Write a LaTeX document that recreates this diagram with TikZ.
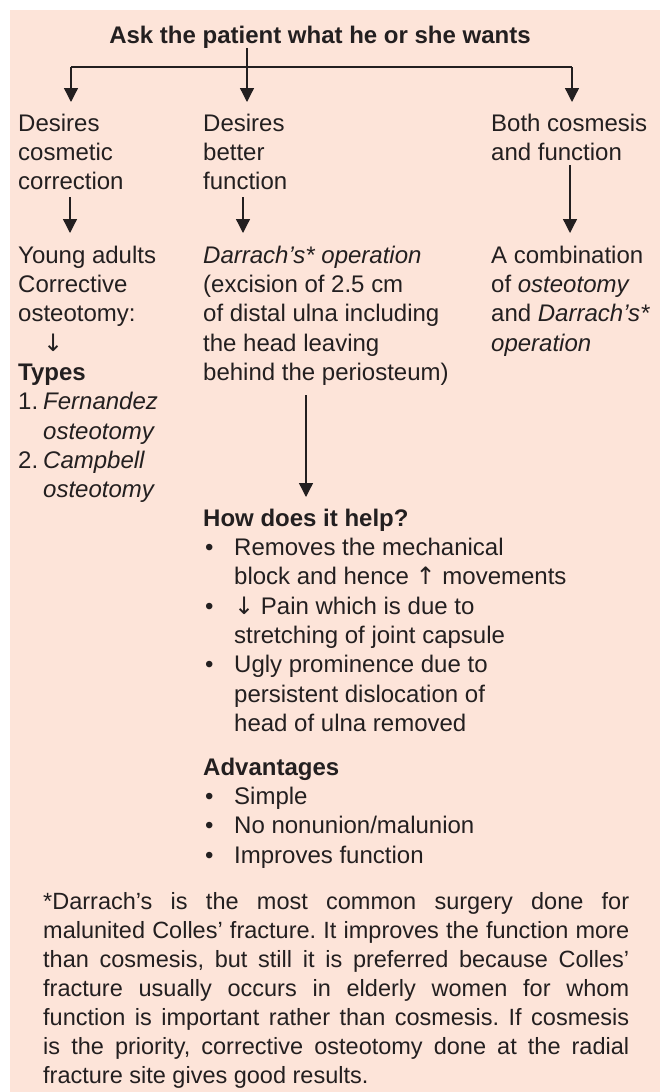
\documentclass[tikz,border=0pt]{standalone}
\usepackage{fontspec}
\setmainfont{Liberation Sans}
\newfontfamily\arrfont{DejaVu Sans}
\usetikzlibrary{arrows.meta}
\definecolor{bg}{RGB}{253,228,217}
\definecolor{ink}{RGB}{35,31,32}
\newcommand\fsz{\fontsize{24}{29.3}\selectfont\frenchspacing}
\newcommand\fnz{\fontsize{23.5}{29.1}\selectfont\frenchspacing}
\newcommand\bul{\makebox[31pt][l]{\hspace{2pt}•}}
\newcommand\ind{\hspace*{31pt}}
\newcommand\jl[1]{\makebox[586pt][s]{#1}}
\newcommand\dn{{\arrfont ↓}}
\newcommand\upa{{\arrfont ↑}}
\begin{document}
\begin{tikzpicture}[x=1pt,y=-1pt,
  txt/.style={anchor=north west, inner sep=0pt, align=left, font=\fsz, text=ink},
  arr/.style={draw=ink, line width=1.3pt, -{Triangle[width=14pt,length=14pt]}},
  ln/.style={draw=ink, line width=1.3pt}]
\useasboundingbox (0,0) rectangle (660,1092);
\fill[white] (0,0) rectangle (660,1092);
\fill[bg] (10,10) rectangle (660,1092);

% title
\node[anchor=base, inner sep=0pt, font=\fsz\bfseries, text=ink] (title) at (320,43) {Ask the patient what he or she wants};

% first row
\node[txt] (d1) at (18,110.5) {\strut Desires\\\strut cosmetic\\\strut correction};
\node[txt] (d2) at (203,110.5) {\strut Desires\\\strut better\\\strut function};
\node[txt] (d3) at (491,110.5) {\strut Both cosmesis\\\strut and function};

% second row
\node[txt] (y1) at (18,242.5) {\strut Young adults\\\strut Corrective\\\strut osteotomy:\\\strut\hspace*{25pt}\dn\\\strut\textbf{Types}\\
\strut\makebox[25pt][l]{1.}\textit{Fernandez}\\\strut\hspace*{25pt}\textit{osteotomy}\\
\strut\makebox[25pt][l]{2.}\textit{Campbell}\\\strut\hspace*{25pt}\textit{osteotomy}};
\node[txt] (op) at (203,242.5) {\strut\textit{Darrach’s* operation}\\\strut (excision of 2.5 cm\\\strut of distal ulna including\\\strut the head leaving\\\strut behind the periosteum)};
\node[txt] (cb) at (491,242.5) {\strut A combination\\\strut of \textit{osteotomy}\\\strut and \textit{Darrach’s*}\\\strut\textit{operation}};

% how does it help
\node[txt] (how) at (203,505.5) {\strut\textbf{How does it help?}\\
\strut\bul Removes the mechanical\\\strut\ind block and hence \upa\ movements\\
\strut\bul \dn\ Pain which is due to\\\strut\ind stretching of joint capsule\\
\strut\bul Ugly prominence due to\\\strut\ind persistent dislocation of\\\strut\ind head of ulna removed};
\node[txt] (adv) at (203,754.5) {\strut\textbf{Advantages}\\\strut\bul Simple\\\strut\bul No nonunion/malunion\\\strut\bul Improves function};

% footnote
\node[txt, font=\fnz] (note) at (43,888.5) {\strut\jl{*Darrach’s is the most common surgery done for}\\
\strut\jl{malunited Colles’ fracture. It improves the function more}\\
\strut\jl{than cosmesis, but still it is preferred because Colles’}\\
\strut\jl{fracture usually occurs in elderly women for whom}\\
\strut\jl{function is important rather than cosmesis. If cosmesis}\\
\strut\jl{is the priority, corrective osteotomy done at the radial}\\
\strut fracture site gives good results.};

% connectors
\coordinate (stem) at (247,48);
\coordinate (jl) at (71,67);
\coordinate (jr) at (572,67);
\coordinate (t1) at (71,102);
\coordinate (t2) at (247,102);
\coordinate (t3) at (572,102);
\draw[ln] (jl) -- (jr);
\draw[arr] (stem) -- (t2);
\draw[arr] (jl) -- (t1);
\draw[arr] (jr) -- (t3);

\coordinate (s1) at (70,197);
\coordinate (e1) at (70,233);
\coordinate (s2) at (243,197);
\coordinate (e2) at (243,233);
\coordinate (s3) at (570,165);
\coordinate (e3) at (570,233);
\draw[arr] (s1) -- (e1);
\draw[arr] (s2) -- (e2);
\draw[arr] (s3) -- (e3);

\coordinate (s4) at (306,395);
\coordinate (e4) at (306,497);
\draw[arr] (s4) -- (e4);
\end{tikzpicture}
\end{document}
